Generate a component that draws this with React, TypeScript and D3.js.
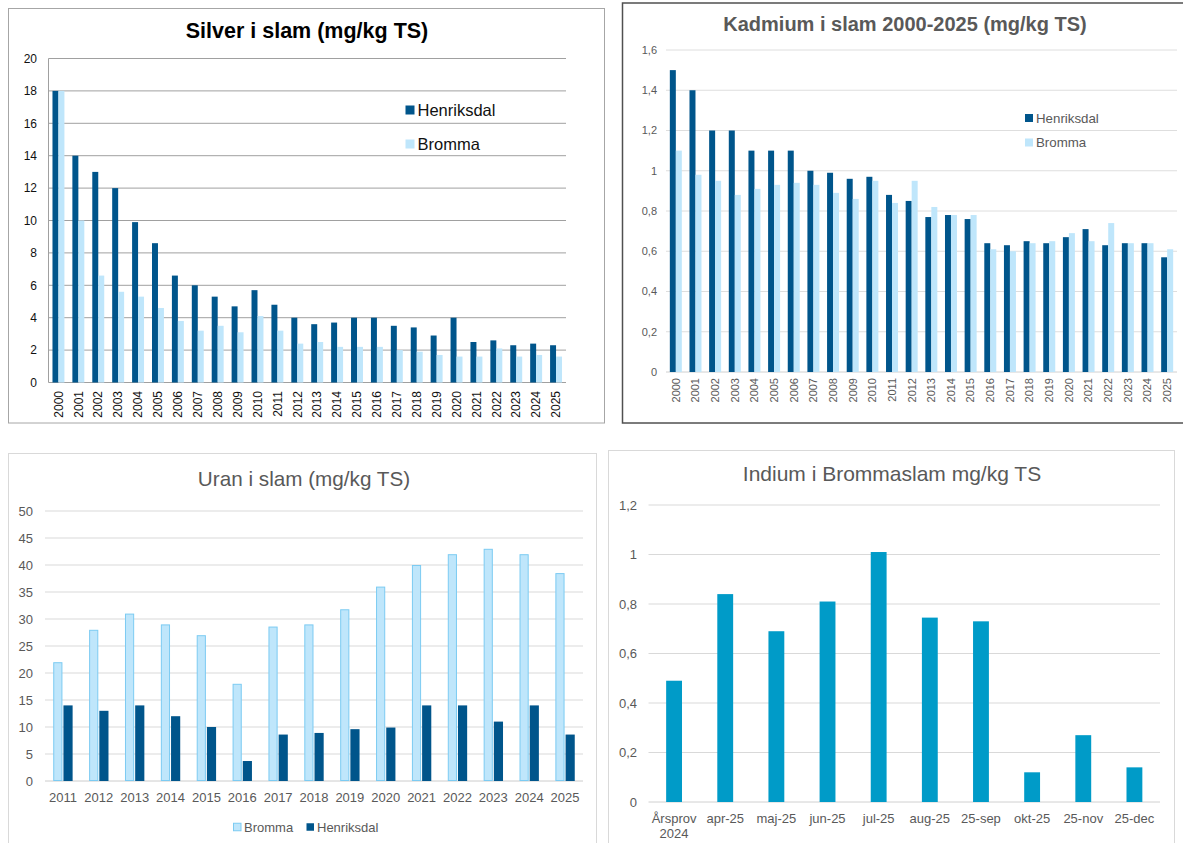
import React from 'react';
import * as d3 from 'd3';

// categories
const years2000 = ['2000', '2001', '2002', '2003', '2004', '2005', '2006', '2007', '2008', '2009', '2010', '2011', '2012',
  '2013', '2014', '2015', '2016', '2017', '2018', '2019', '2020', '2021', '2022', '2023', '2024', '2025'];
const years2011 = ['2011', '2012', '2013', '2014', '2015', '2016', '2017', '2018', '2019', '2020', '2021', '2022', '2023', '2024', '2025'];
const indiumLabels = ['Årsprov\n2024', 'apr-25', 'maj-25', 'jun-25', 'jul-25', 'aug-25', '25-sep', 'okt-25', '25-nov', '25-dec'];

// Silver (mg/kg TS)
const silverHenriksdal = [18, 14, 13, 12, 9.9, 8.6, 6.6, 6.0, 5.3, 4.7, 5.7, 4.8, 4.0, 3.6, 3.7, 4.0, 4.0, 3.5, 3.4, 2.9, 4.0, 2.5, 2.6, 2.3, 2.4, 2.3];
const silverBromma = [18, 10, 6.6, 5.6, 5.3, 4.6, 3.8, 3.2, 3.5, 3.1, 4.1, 3.2, 2.4, 2.5, 2.2, 2.2, 2.2, 2.0, 1.9, 1.7, 1.6, 1.6, 2.1, 1.6, 1.7, 1.6];

// Kadmium (mg/kg TS)
const cadmiumHenriksdal = [1.5, 1.4, 1.2, 1.2, 1.1, 1.1, 1.1, 1.0, 0.99, 0.96, 0.97, 0.88, 0.85, 0.77, 0.78, 0.76, 0.64, 0.63, 0.65, 0.64, 0.67, 0.71, 0.63, 0.64, 0.64, 0.57];
const cadmiumBromma = [1.1, 0.98, 0.95, 0.88, 0.91, 0.93, 0.94, 0.93, 0.89, 0.86, 0.95, 0.84, 0.95, 0.82, 0.78, 0.78, 0.61, 0.6, 0.64, 0.65, 0.69, 0.65, 0.74, 0.64, 0.64, 0.61];

// Uran (mg/kg TS)
const uranBromma = [22, 28, 31, 29, 27, 18, 28.6, 29, 31.8, 36, 40, 42, 43, 42, 38.5];
const uranHenriksdal = [14, 13, 14, 12, 10, 3.7, 8.6, 8.9, 9.6, 9.9, 14, 14, 11, 14, 8.6];

// Indium i Brommaslam
const indiumValues = [0.49, 0.84, 0.69, 0.81, 1.01, 0.745, 0.73, 0.12, 0.27, 0.14];

// tick values
const silverTicks = [0, 2, 4, 6, 8, 10, 12, 14, 16, 18, 20];
const cadmiumTicks = [0, 0.2, 0.4, 0.6, 0.8, 1, 1.2, 1.4, 1.6];
const uranTicks = [0, 5, 10, 15, 20, 25, 30, 35, 40, 45, 50];
const indiumTicks = [0, 0.2, 0.4, 0.6, 0.8, 1, 1.2];

const FONT = '"Liberation Sans", Arial, sans-serif';
const DARK = '#00558B';
const LIGHT = '#BFE6FB';
const GREY_TEXT = '#595959';

const sv = d3.formatLocale({ decimal: ',', thousands: ' ', grouping: [3], currency: ['', ' kr'] });
const fmtComma = sv.format('~g');
const fmtPlain = (v: number) => String(v);

interface SeriesDef {
  name: string;
  values: number[];
  fill: string;
  stroke?: string;
}

interface BarsProps {
  categories: string[];
  series: SeriesDef[];
  left: number;
  right: number;
  top: number;
  bottom: number;
  yMax: number;
  ticks: number[];
  tickFormat: (v: number) => string;
  padInner: number;
  pairGap?: number;
  gridColor: string;
  axisColor: string;
  leftAxis?: boolean;
  yLabelX: number;
  yLabelSize: number;
  labelColor: string;
  xLabelY: number;
  xLabelSize: number;
  rotate?: boolean;
}

function Bars(p: BarsProps) {
  const x0 = d3.scaleBand<string>()
    .domain(p.categories)
    .range([p.left, p.right])
    .paddingInner(p.padInner)
    .paddingOuter(p.padInner / 2);
  const x1 = d3.scaleBand<string>()
    .domain(p.series.map(s => s.name))
    .range([0, x0.bandwidth()])
    .paddingInner(p.pairGap ?? 0);
  const y = d3.scaleLinear().domain([0, p.yMax]).range([p.bottom, p.top]);

  return (
    <g fontFamily={FONT}>
      {p.ticks.map(t => (
        <line key={'g' + t} x1={p.left} x2={p.right} y1={y(t)} y2={y(t)}
          stroke={t === 0 ? p.axisColor : p.gridColor} strokeWidth={1} />
      ))}
      {p.leftAxis && <line x1={p.left} x2={p.left} y1={p.top} y2={p.bottom} stroke={p.axisColor} />}
      {p.ticks.map(t => (
        <text key={'t' + t} x={p.yLabelX} y={y(t)} dy="0.35em" textAnchor="end"
          fontSize={p.yLabelSize} fill={p.labelColor}>{p.tickFormat(t)}</text>
      ))}
      {p.series.map(s => (
        <g key={s.name}>
          {p.categories.map((c, i) => {
            const bx = (x0(c) ?? 0) + (x1(s.name) ?? 0);
            const inset = s.stroke ? 0.5 : 0;
            return (
              <rect key={c} x={bx + inset} y={y(s.values[i]) + inset}
                width={x1.bandwidth() - 2 * inset} height={Math.max(0, p.bottom - y(s.values[i]) - 2 * inset)}
                fill={s.fill} stroke={s.stroke ?? 'none'} strokeWidth={s.stroke ? 1 : 0} />
            );
          })}
        </g>
      ))}
      {p.categories.map(c => {
        const cx = (x0(c) ?? 0) + x0.bandwidth() / 2;
        if (p.rotate) {
          return (
            <text key={'x' + c} transform={`translate(${cx},${p.xLabelY}) rotate(-90)`} textAnchor="end"
              dy="0.35em" fontSize={p.xLabelSize} fill={p.labelColor}>{c}</text>
          );
        }
        const lines = c.split('\n');
        return (
          <text key={'x' + c} x={cx} y={p.xLabelY} textAnchor="middle" fontSize={p.xLabelSize} fill={p.labelColor}>
            {lines.map((l, k) => (
              <tspan key={k} x={cx} dy={k === 0 ? 0 : p.xLabelSize * 1.15}>{l}</tspan>
            ))}
          </text>
        );
      })}
    </g>
  );
}

function LegendItem({ x, y, color, stroke, label, size, textColor, box }: {
  x: number; y: number; color: string; stroke?: string; label: string; size: number; textColor: string; box: number;
}) {
  return (
    <g fontFamily={FONT}>
      <rect x={x} y={y - box / 2} width={box} height={box} fill={color} stroke={stroke ?? 'none'} />
      <text x={x + box + 3} y={y} dy="0.35em" fontSize={size} fill={textColor}>{label}</text>
    </g>
  );
}

export default function App() {
  return (
    <div style={{ position: 'absolute', left: 0, top: 0 }}>
      <svg width={1183} height={843} style={{ display: 'block', background: '#fff' }}>
        {/* Silver */}
        <rect x={8.5} y={8.5} width={596} height={414.5} fill="#fff" stroke="#a6a6a6" />
        <text x={307} y={38} textAnchor="middle" fontFamily={FONT} fontWeight="bold" fontSize={21.5} fill="#000">
          Silver i slam (mg/kg TS)
        </text>
        <Bars categories={years2000}
          series={[
            { name: 'Henriksdal', values: silverHenriksdal, fill: DARK },
            { name: 'Bromma', values: silverBromma, fill: LIGHT },
          ]}
          left={48.5} right={566} top={58.5} bottom={382.5} yMax={20} ticks={silverTicks} tickFormat={fmtPlain}
          padInner={0.4} gridColor="#a0a0a0" axisColor="#a0a0a0" leftAxis
          yLabelX={37} yLabelSize={12} labelColor="#111"
          xLabelY={391} xLabelSize={12} rotate />
        <LegendItem x={405.5} y={110} color={DARK} label="Henriksdal" size={16.5} textColor="#111" box={9} />
        <LegendItem x={405.5} y={144} color={LIGHT} label="Bromma" size={16.5} textColor="#111" box={9} />

        {/* Kadmium */}
        <rect x={622.5} y={3} width={562} height={420} fill="#fff" stroke="#505050" strokeWidth={1.5} />
        <text x={905} y={31} textAnchor="middle" fontFamily={FONT} fontWeight="bold" fontSize={20} fill={GREY_TEXT}>
          Kadmium i slam 2000-2025 (mg/kg TS)
        </text>
        <Bars categories={years2000}
          series={[
            { name: 'Henriksdal', values: cadmiumHenriksdal, fill: DARK },
            { name: 'Bromma', values: cadmiumBromma, fill: LIGHT },
          ]}
          left={666} right={1177} top={50} bottom={372} yMax={1.6} ticks={cadmiumTicks} tickFormat={fmtComma}
          padInner={0.39} gridColor="#dedede" axisColor="#d0d0d0"
          yLabelX={657} yLabelSize={11} labelColor={GREY_TEXT}
          xLabelY={378} xLabelSize={11} rotate />
        <LegendItem x={1025} y={118} color={DARK} label="Henriksdal" size={13.3} textColor={GREY_TEXT} box={8} />
        <LegendItem x={1025} y={142.5} color={LIGHT} label="Bromma" size={13.3} textColor={GREY_TEXT} box={8} />

        {/* Uran */}
        <rect x={8.5} y={453.5} width={588} height={400} fill="#fff" stroke="#d9d9d9" />
        <text x={304} y={486} textAnchor="middle" fontFamily={FONT} fontSize={20.7} fill={GREY_TEXT}>
          Uran i slam (mg/kg TS)
        </text>
        <Bars categories={years2011}
          series={[
            { name: 'Bromma', values: uranBromma, fill: LIGHT, stroke: '#7ccbf2' },
            { name: 'Henriksdal', values: uranHenriksdal, fill: DARK },
          ]}
          left={45} right={583} top={511} bottom={781} yMax={50} ticks={uranTicks} tickFormat={fmtPlain}
          padInner={0.46} pairGap={0.1} gridColor="#d9d9d9" axisColor="#cccccc"
          yLabelX={33} yLabelSize={13} labelColor={GREY_TEXT}
          xLabelY={802} xLabelSize={13} />
        <LegendItem x={233.5} y={827} color={LIGHT} stroke="#7ccbf2" label="Bromma" size={13} textColor={GREY_TEXT} box={7.5} />
        <LegendItem x={306.5} y={827} color={DARK} label="Henriksdal" size={13} textColor={GREY_TEXT} box={7.5} />

        {/* Indium */}
        <rect x={608.5} y={450.5} width={566} height={400} fill="#fff" stroke="#d9d9d9" />
        <text x={892} y={481} textAnchor="middle" fontFamily={FONT} fontSize={21} fill={GREY_TEXT}>
          Indium i Brommaslam mg/kg TS
        </text>
        <Bars categories={indiumLabels}
          series={[{ name: 'Indium', values: indiumValues, fill: '#009BC8' }]}
          left={648.5} right={1160} top={505} bottom={802} yMax={1.2} ticks={indiumTicks} tickFormat={fmtComma}
          padInner={0.69} gridColor="#d9d9d9" axisColor="#d0d0d0"
          yLabelX={637} yLabelSize={13} labelColor={GREY_TEXT}
          xLabelY={823} xLabelSize={13} />
      </svg>
    </div>
  );
}
